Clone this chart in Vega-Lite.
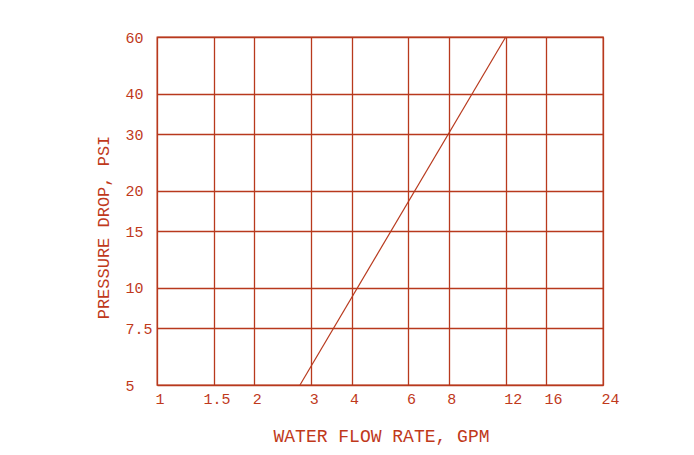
{
  "$schema": "https://vega.github.io/schema/vega-lite/v6.json",
  "width": 446,
  "height": 348,
  "autosize": {"type": "none"},
  "padding": {"left": 157, "top": 37, "right": 91, "bottom": 70},
  "background": "white",
  "config": {
    "view": {"stroke": "#b8391d", "strokeWidth": 1.3},
    "axis": {
      "labelFont": "Liberation Mono",
      "titleFont": "Liberation Mono",
      "labelColor": "#c0391b",
      "titleColor": "#c0391b",
      "labelFontSize": 15,
      "titleFontWeight": "normal",
      "gridColor": "#b8391d",
      "gridOpacity": 1,
      "gridWidth": 1.3,
      "ticks": false,
      "domain": false,
      "labelFlush": false,
      "labelOverlap": false
    }
  },
  "data": {
    "values": [
      {"flow": 2.77, "drop": 5},
      {"flow": 12, "drop": 60}
    ]
  },
  "mark": {"type": "line", "color": "#b8391d", "strokeWidth": 1.2},
  "encoding": {
    "x": {
      "field": "flow",
      "type": "quantitative",
      "scale": {"type": "log", "domain": [1, 24], "nice": false},
      "axis": {
        "title": "WATER FLOW RATE, GPM",
        "titleFontSize": 18,
        "values": [1, 1.5, 2, 3, 4, 6, 8, 12, 16, 24],
        "format": "~g",
        "labelAlign": "left",
        "labelBaseline": "top",
        "labelPadding": 6,
        "labelOffset": {"condition": {"test": "datum.value == 1.5", "value": -11}, "value": -2},
        "titleX": 224,
        "titleY": 51,
        "titleBaseline": "middle",
        "titleAlign": "center"
      }
    },
    "y": {
      "field": "drop",
      "type": "quantitative",
      "scale": {"type": "log", "domain": [5, 60], "nice": false},
      "axis": {
        "title": "PRESSURE DROP, PSI",
        "titleFontSize": 17,
        "values": [5, 7.5, 10, 15, 20, 30, 40, 60],
        "format": "~g",
        "labelAlign": "left",
        "labelBaseline": "middle",
        "labelPadding": 32,
        "titleX": -54,
        "titleY": 190,
        "titleAngle": -90,
        "titleBaseline": "middle",
        "titleAlign": "center"
      }
    }
  }
}
